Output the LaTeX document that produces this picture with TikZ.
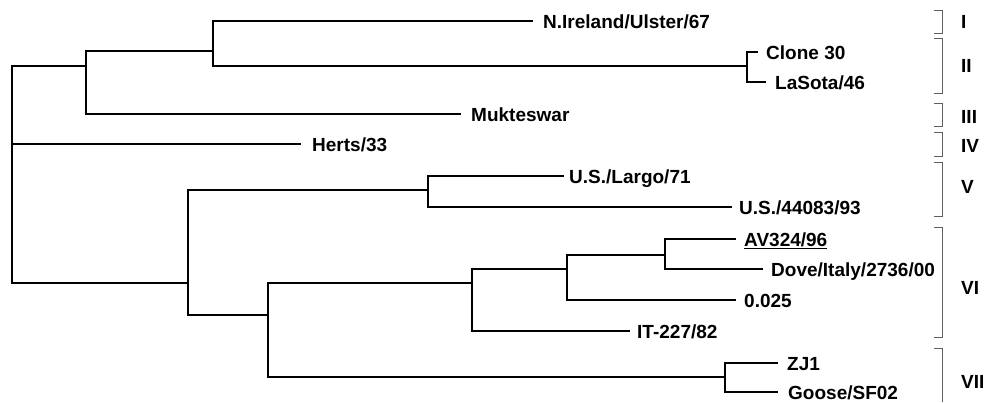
\documentclass[tikz,border=0pt]{standalone}
\usepackage{fontspec}
\setmainfont{Liberation Sans}
\usepackage{tikz}
\usetikzlibrary{positioning}
\definecolor{bargray}{RGB}{95,95,95}
\tikzset{
  branch/.style    = {draw=black, line width=2.5pt, line cap=rect, line join=miter},
  taxon/.style     = {anchor=base west, inner sep=0pt, xshift=5pt, yshift=-7pt,
                      font=\fontsize{19}{22}\selectfont\bfseries},
  cladebar/.style  = {draw=bargray, line width=0.9pt},
  cladename/.style = {anchor=base west, inner sep=0pt, yshift=-7pt,
                      font=\fontsize{19}{22}\selectfont\bfseries}
}

\begin{document}
\begin{tikzpicture}[x=1pt, y=-1pt]
\useasboundingbox (0,0) rectangle (987,402);

% internal nodes
\coordinate (root) at (12,144);
\coordinate (nA) at (86,66);
\coordinate (nB) at (213,51);
\coordinate (nK) at (747,66);
\coordinate (nC) at (188,283);
\coordinate (nD) at (428,190);
\coordinate (nE) at (268,315);
\coordinate (nF) at (472,283);
\coordinate (nH) at (567,269);
\coordinate (nI) at (665,255);
\coordinate (nJ) at (725,377);

% tips
\coordinate (tNI)    at (532,21);
\coordinate (tClone) at (757,52);
\coordinate (tLaSo)  at (765,82);
\coordinate (tMuk)   at (460,114);
\coordinate (tHerts) at (300,144);
\coordinate (tLargo) at (563,176);
\coordinate (tUS93)  at (731,207);
\coordinate (tAV)    at (735,239);
\coordinate (tDove)  at (762,269);
\coordinate (tScale) at (735,300);
\coordinate (tIT)    at (629,331);
\coordinate (tZJ)    at (777,363);
\coordinate (tGoose) at (777,392);

% branches
\draw[branch] (nA) -| (root) |- (nC);
\draw[branch] (root) -- (tHerts);
\draw[branch] (nB) -| (nA) |- (tMuk);
\draw[branch] (tNI) -| (nB) |- (nK);
\draw[branch] (tClone) -| (nK) |- (tLaSo);
\draw[branch] (nD) -| (nC) |- (nE);
\draw[branch] (tLargo) -| (nD) |- (tUS93);
\draw[branch] (nF) -| (nE) |- (nJ);
\draw[branch] (nH) -| (nF) |- (tIT);
\draw[branch] (nI) -| (nH) |- (tScale);
\draw[branch] (tAV) -| (nI) |- (tDove);
\draw[branch] (tZJ) -| (nJ) |- (tGoose);

% labels
\node[taxon, xshift=6pt] (lNI) at (tNI) {N.Ireland/Ulster/67};
\node[taxon, xshift=4pt] (lClone) at (tClone) {Clone 30};
\node[taxon, xshift=5pt] (lLaSo) at (tLaSo) {LaSota/46};
\node[taxon, xshift=6pt] (lMuk) at (tMuk) {Mukteswar};
\node[taxon, xshift=7pt] (lHerts) at (tHerts) {Herts/33};
\node[taxon, xshift=1pt] (lLargo) at (tLargo) {U.S./Largo/71};
\node[taxon, xshift=3pt] (lUS93) at (tUS93) {U.S./44083/93};
\node[taxon, xshift=4pt] (lAV) at (tAV) {\underline{AV324/96}};
\node[taxon, xshift=4pt] (lDove) at (tDove) {Dove/Italy/2736/00};
\node[taxon, xshift=4pt] (lScale) at (tScale) {0.025};
\node[taxon, xshift=3pt] (lIT) at (tIT) {IT-227/82};
\node[taxon, xshift=5pt] (lZJ) at (tZJ) {ZJ1};
\node[taxon, xshift=6pt] (lGoose) at (tGoose) {Goose/SF02};

% genotype brackets
\foreach \ytop/\ybot/\ylab/\gname/\gtext in {10/33/21/gI/I, 38/93/65/gII/II,
    103/126/116/gIII/III, 132/156/145/gIV/IV, 162/216/186/gV/V,
    227/337/287/gVI/VI}{
  \draw[cladebar] (934,\ytop) -- (942,\ytop) -- (942,\ybot) -- (934,\ybot);
  \node[cladename] (\gname) at (961,\ylab) {\gtext};
}
\draw[cladebar] (934,348) -- (942,348) -- (942,402);
\node[cladename] (gVII) at (961,381) {VII};
\end{tikzpicture}
\end{document}
